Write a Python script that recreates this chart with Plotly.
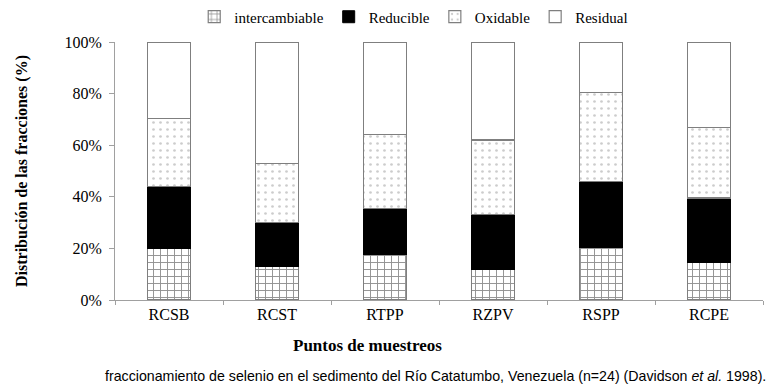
import plotly.graph_objects as go

categories = ["RCSB", "RCST", "RTPP", "RZPV", "RSPP", "RCPE"]
intercambiable = [20, 13, 17.5, 12, 20.5, 14.5]
reducible = [24, 17, 18, 21, 25.5, 25]
oxidable = [26.5, 23, 28.5, 29, 34.5, 27.5]
residual = [29.5, 47, 36, 38, 19.5, 33]
y_ticks = [0, 20, 40, 60, 80, 100]
y_tick_labels = ["0%", "20%", "40%", "60%", "80%", "100%"]

SERIF = "Liberation Serif, Times New Roman, serif"
outline = dict(color="#7f7f7f", width=1.2)

fig = go.Figure()
fig.add_trace(go.Bar(
    x=categories, y=intercambiable, name="intercambiable",
    marker=dict(color="white", line=outline,
                pattern=dict(shape="+", fgcolor="#222222", bgcolor="white", size=7, solidity=0.25)),
))
fig.add_trace(go.Bar(
    x=categories, y=reducible, name="Reducible",
    marker=dict(color="black", line=dict(color="black", width=1)),
))
fig.add_trace(go.Bar(
    x=categories, y=oxidable, name="Oxidable",
    marker=dict(color="white", line=outline,
                pattern=dict(shape=".", fgcolor="#9a9a9a", bgcolor="white", size=7, solidity=0.12)),
))
fig.add_trace(go.Bar(
    x=categories, y=residual, name="Residual",
    marker=dict(color="white", line=outline),
))

fig.update_layout(
    barmode="stack",
    bargap=0.6,
    width=769, height=381,
    margin=dict(l=107, r=14, t=34, b=89, autoexpand=False),
    paper_bgcolor="white", plot_bgcolor="white",
    font=dict(family=SERIF, size=16, color="black"),
    showlegend=True,
    legend=dict(orientation="h", x=0.461, xanchor="center", y=1.097, yanchor="middle",
                traceorder="normal", font=dict(family=SERIF, size=15, color="black"),
                itemwidth=30, bgcolor="rgba(0,0,0,0)"),
    xaxis=dict(showline=True, linecolor="#a0a0a0", linewidth=1,
               ticks="outside", ticklen=4, tickcolor="#a0a0a0", tickson="boundaries",
               tickfont=dict(family=SERIF, size=16), showgrid=False),
    yaxis=dict(range=[0, 100], tickvals=y_ticks, ticktext=y_tick_labels,
               showline=True, linecolor="#a0a0a0", linewidth=1,
               ticks="outside", ticklen=5, tickcolor="#a0a0a0", ticklabelstandoff=4,
               tickfont=dict(family=SERIF, size=16), showgrid=False, zeroline=False),
    annotations=[
        dict(text="<b>Distribución de las fracciones (%)</b>", textangle=-90,
             xref="paper", yref="paper", x=-0.1435, y=0.5, showarrow=False,
             xanchor="center", yanchor="middle",
             font=dict(family=SERIF, size=16, color="black")),
        dict(text="<b>Puntos de muestreos</b>",
             xref="paper", yref="paper", x=0.39, y=-0.178, showarrow=False,
             xanchor="center", yanchor="middle",
             font=dict(family=SERIF, size=17, color="black")),
        dict(text="fraccionamiento de selenio en el sedimento del Río Catatumbo, Venezuela (n=24) (Davidson <i>et al.</i> 1998).",
             xref="paper", yref="paper", x=0.494, y=-0.295, showarrow=False,
             xanchor="center", yanchor="middle",
             font=dict(family="Liberation Sans, Arial, sans-serif", size=14.2, color="black")),
    ],
)

fig.write_html("out.html")
